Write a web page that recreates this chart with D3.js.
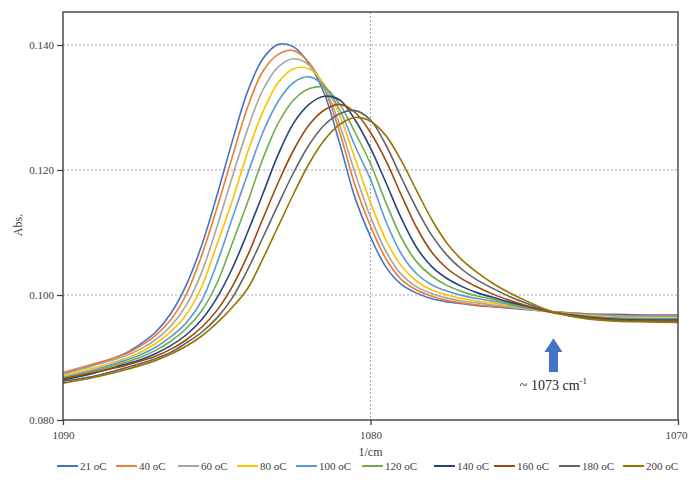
<!DOCTYPE html>
<html><head><meta charset="utf-8">
<script src="https://cdn.jsdelivr.net/npm/d3@7"></script>
<style>body{margin:0;background:#fff}svg{display:block}text{font-family:"Liberation Serif","Times New Roman",serif}</style>
</head><body><svg id="c" width="688" height="480"></svg>
<script>
const wavenumbers = [1090,1089,1088,1087.5,1087,1086.5,1086,1085.5,1085,1084.5,1084,1083.5,1083,1082.5,1082,1081.5,1081,1080.5,1080,1079.5,1079,1078.5,1078,1077.5,1077,1076.5,1076,1075.5,1075,1074.5,1074,1073,1072,1071,1070];
const seriesNames = ["21 oC","40 oC","60 oC","80 oC","100 oC","120 oC","140 oC","160 oC","180 oC","200 oC"];
const s21  = [.0874,.0888,.0906,.0921,.0940,.0970,.1015,.1078,.1158,.1245,.1325,.1378,.1401,.1397,.1370,.1322,.1242,.1155,.1093,.1045,.1017,.1003,.0994,.0989,.0986,.0983,.0981,.0979,.0977,.0975,.0973,.0970,.0969,.0968,.0968];
const s40  = [.0876,.0890,.0905,.0918,.0935,.0960,.1000,.1062,.1138,.1220,.1300,.1358,.1385,.1391,.1372,.1330,.1260,.1175,.1110,.1058,.1025,.1008,.0998,.0991,.0987,.0984,.0982,.0980,.0978,.0975,.0973,.0969,.0967,.0966,.0966];
const s60  = [.0873,.0887,.0902,.0913,.0928,.0950,.0983,.1035,.1108,.1188,.1265,.1328,.1365,.1378,.1368,.1333,.1272,.1195,.1125,.1070,.1033,.1013,.1002,.0995,.0990,.0987,.0984,.0981,.0978,.0975,.0972,.0968,.0966,.0965,.0965];
const s80  = [.0870,.0883,.0898,.0908,.0922,.0941,.0968,.1012,.1080,.1150,.1228,.1293,.1340,.1362,.1362,.1337,.1287,.1218,.1148,.1088,.1047,.1022,.1008,.1000,.0994,.0990,.0987,.0983,.0979,.0975,.0972,.0967,.0964,.0963,.0963];
const s100 = [.0868,.0880,.0895,.0904,.0916,.0933,.0955,.0990,.1050,.1122,.1193,.1260,.1310,.1340,.1349,.1334,.1296,.1238,.1185,.1118,.1066,.1034,.1016,.1006,.0999,.0994,.0990,.0985,.0980,.0976,.0972,.0966,.0963,.0962,.0962];
const s120 = [.0867,.0878,.0892,.0900,.0911,.0926,.0946,.0974,.1018,.1082,.1148,.1218,.1275,.1312,.1330,.1332,.1305,.1260,.1210,.1148,.1092,.1053,.1030,.1015,.1005,.0998,.0993,.0987,.0982,.0977,.0972,.0966,.0962,.0961,.0961];
const s140 = [.0864,.0875,.0889,.0896,.0906,.0919,.0936,.0960,.0995,.1042,.1100,.1162,.1225,.1275,.1305,.1318,.1312,.1280,.1235,.1180,.1123,.1076,.1045,.1026,.1013,.1003,.0996,.0989,.0983,.0977,.0972,.0965,.0961,.0960,.0960];
const s160 = [.0866,.0876,.0887,.0894,.0902,.0913,.0928,.0948,.0975,.1013,.1063,.1122,.1180,.1232,.1272,.1296,.1305,.1292,.1260,.1215,.1160,.1108,.1068,.1042,.1025,.1012,.1001,.0992,.0984,.0977,.0971,.0964,.0960,.0959,.0959];
const s180 = [.0862,.0870,.0883,.0890,.0898,.0908,.0923,.0940,.0963,.0995,.1040,.1092,.1145,.1196,.1240,.1272,.1290,.1295,.1280,.1240,.1188,.1138,.1095,.1063,.1040,.1023,.1010,.0998,.0988,.0979,.0972,.0963,.0959,.0958,.0958];
const s200 = [.0859,.0868,.0880,.0887,.0895,.0905,.0918,.0934,.0955,.0980,.1010,.1058,.1110,.1162,.1210,.1248,.1273,.1284,.1278,.1255,.1215,.1167,.1120,.1082,.1055,.1035,.1018,.1004,.0992,.0981,.0972,.0962,.0958,.0957,.0956];
const seriesValues = [s21,s40,s60,s80,s100,s120,s140,s160,s180,s200];
const colors = ["#4472C4","#ED7D31","#A5A5A5","#FFC000","#5B9BD5","#70AD47","#264478","#9E480E","#636363","#997300"];
const xTicks = [1090,1080,1070];
const yTicks = [0.080,0.100,0.120,0.140];

const svg = d3.select("#c");
const L = 63, R = 678, T = 12, B = 420;
const x = d3.scaleLinear().domain([1090,1070]).range([L,R]);
const y = d3.scaleLinear().domain([0.080,0.140]).range([B,45]);

// gridlines
svg.append("g").selectAll("line").data(yTicks.slice(1)).join("line")
  .attr("x1",L).attr("x2",R).attr("y1",d=>y(d)).attr("y2",d=>y(d))
  .attr("stroke","#a6a6a6").attr("stroke-width",1).attr("stroke-dasharray","2,2");
svg.append("line").attr("x1",x(1080)).attr("x2",x(1080)).attr("y1",T).attr("y2",B)
  .attr("stroke","#a6a6a6").attr("stroke-width",1).attr("stroke-dasharray","2,2");

// axes
const yAxis = d3.axisLeft(y).tickValues(yTicks).tickFormat(d3.format(".3f")).tickSize(6).tickPadding(3);
const gy = svg.append("g").attr("transform",`translate(${L},0)`).call(yAxis);
const xAxis = d3.axisBottom(x).tickValues(xTicks).tickFormat(d3.format("d")).tickSize(5).tickPadding(6);
const gx = svg.append("g").attr("transform",`translate(0,${B})`).call(xAxis);
[gy,gx].forEach(g=>{
  g.select(".domain").remove();
  g.selectAll("line").attr("stroke","#404040").attr("stroke-width",1.3);
  g.selectAll("text").attr("fill","#404040").style("font-size","11px").style("font-family",'"Liberation Serif",serif');
});
gx.selectAll(".tick text").filter(d=>d===1070).attr("dx",-2);

// series
const line = d3.line().x((d,i)=>x(wavenumbers[i])).y(d=>y(d)).curve(d3.curveCatmullRom.alpha(0.5));
svg.append("g").selectAll("path").data(seriesValues).join("path")
  .attr("d",line).attr("fill","none").attr("stroke",(d,i)=>colors[i]).attr("stroke-width",1.6);

// frame
svg.append("rect").attr("x",L).attr("y",T).attr("width",R-L).attr("height",B-T)
  .attr("fill","none").attr("stroke","#404040").attr("stroke-width",1.4);

// axis titles
svg.append("text").attr("x",x(1080)).attr("y",456).attr("text-anchor","middle")
  .attr("fill","#404040").style("font-size","12px").text("1/cm");
svg.append("text").attr("transform","translate(22,225) rotate(-90)").attr("text-anchor","middle")
  .attr("fill","#404040").style("font-size","12px").text("Abs.");

// annotation arrow
const ax = x(1074.05);
const arrowTop = y(0.0931), headBase = y(0.0909), arrowBot = y(0.0877);
svg.append("path").attr("fill","#4472C4")
  .attr("d",`M${ax},${arrowTop} L${ax+9},${headBase} L${ax+4.5},${headBase} L${ax+4.5},${arrowBot} L${ax-4.5},${arrowBot} L${ax-4.5},${headBase} L${ax-9},${headBase} Z`);
const ann = svg.append("text").attr("x",ax).attr("y",y(0.0848)).attr("text-anchor","middle")
  .attr("fill","#262626").style("font-size","14px");
ann.append("tspan").text("~ 1073 cm");
ann.append("tspan").attr("dy",-6).style("font-size","9px").text("-1");

// legend
const legendStarts = [57,116,178,237,296,362,434,494,559,623];
const lg = svg.append("g").selectAll("g").data(seriesNames).join("g")
  .attr("transform",(d,i)=>`translate(${legendStarts[i]},466)`);
lg.append("line").attr("x1",0).attr("x2",21).attr("stroke",(d,i)=>colors[i]).attr("stroke-width",2);
lg.append("text").attr("x",23).attr("y",4).attr("fill","#404040").style("font-size","11px").text(d=>d);
</script></body></html>
